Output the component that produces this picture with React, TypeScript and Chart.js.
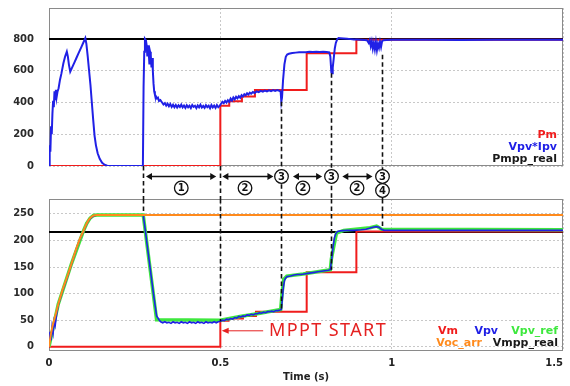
import React, { useEffect, useRef } from 'react';
import { Chart, registerables } from 'chart.js';
Chart.register(...registerables);

// ---------- shared axis ----------
const timeRange = [0, 1.5];
const timeTicks = [0, 0.5, 1, 1.5];

// ---------- top panel: power ----------
const powerTicks = [0, 200, 400, 600, 800];
const pmppReal = 800;

const pmTimes = [0, 0.5, 0.526, 0.563, 0.601, 0.752, 0.897, 1.5];
const pmValues = [0, 380, 407, 437, 478, 710, 795, 795];

const pvPowerTimes = [
  0, 0.002, 0.004, 0.006, 0.008, 0.01, 0.012, 0.014, 0.016, 0.018, 0.02, 0.022, 0.025, 0.028, 0.032,
  0.036, 0.042, 0.047, 0.052, 0.055, 0.058, 0.062, 0.066, 0.07, 0.075, 0.08, 0.085, 0.09, 0.095, 0.1,
  0.104, 0.106, 0.109, 0.113, 0.117, 0.121, 0.125, 0.129, 0.133, 0.137, 0.142, 0.148, 0.155, 0.162, 0.17,
  0.18, 0.274, 0.276, 0.278, 0.28, 0.283, 0.285, 0.287, 0.289, 0.291, 0.293, 0.295, 0.297, 0.299, 0.301,
  0.303, 0.305, 0.307, 0.309, 0.312, 0.315, 0.318, 0.321, 0.325, 0.33, 0.334, 0.338, 0.342, 0.346, 0.35,
  0.354, 0.358, 0.362, 0.366, 0.37, 0.374, 0.378, 0.382, 0.386, 0.39, 0.394, 0.398, 0.402, 0.406, 0.41,
  0.414, 0.418, 0.422, 0.426, 0.43, 0.434, 0.438, 0.442, 0.446, 0.45, 0.454, 0.458, 0.462, 0.466, 0.47,
  0.474, 0.478, 0.482, 0.486, 0.49, 0.494, 0.498, 0.502, 0.506, 0.51, 0.514, 0.518, 0.522, 0.526, 0.53,
  0.534, 0.538, 0.542, 0.546, 0.55, 0.554, 0.558, 0.562, 0.566, 0.57, 0.574, 0.578, 0.582, 0.586, 0.59,
  0.595, 0.6, 0.606, 0.612, 0.618, 0.624, 0.63, 0.636, 0.642, 0.648, 0.654, 0.66, 0.666, 0.672, 0.676,
  0.678, 0.68, 0.683, 0.687, 0.691, 0.695, 0.7, 0.71, 0.72, 0.73, 0.74, 0.75, 0.76, 0.77, 0.78,
  0.79, 0.8, 0.81, 0.818, 0.821, 0.824, 0.826, 0.828, 0.831, 0.834, 0.837, 0.841, 0.845, 0.85, 0.86,
  0.87, 0.88, 0.89, 0.9, 0.91, 0.92, 0.928, 0.933, 0.936, 0.939, 0.942, 0.945, 0.948, 0.951, 0.954,
  0.957, 0.96, 0.963, 0.966, 0.969, 0.972, 0.976, 0.985, 1.0, 1.1, 1.2, 1.3, 1.4, 1.5,
];
const pvPowerValues = [
  0, 130, 90, 250, 200, 330, 410, 370, 470, 420, 480, 430, 470, 490, 542,
  580, 647, 690, 720, 690, 640, 594, 613, 632, 656, 680, 704, 728, 752, 776,
  795, 805, 770, 690, 600, 510, 400, 290, 190, 130, 80, 45, 20, 8, 2,
  0, 0, 500, 720, 800, 790, 760, 690, 760, 720, 640, 720, 700, 620, 680,
  600, 520, 470, 450, 440, 425, 430, 410, 415, 400, 388, 396, 380, 392, 376,
  390, 372, 386, 370, 384, 368, 382, 371, 386, 369, 381, 366, 383, 370, 380,
  365, 384, 372, 379, 364, 382, 370, 386, 368, 378, 366, 383, 371, 380, 364,
  384, 369, 381, 366, 384, 370, 378, 392, 404, 396, 410, 400, 414, 404, 425,
  412, 432, 420, 436, 426, 440, 430, 446, 438, 452, 445, 458, 450, 462, 455,
  466, 460, 470, 465, 473, 468, 475, 470, 477, 472, 478, 473, 478, 474, 468,
  405, 430, 540, 640, 688, 702, 707, 711, 714, 716, 717, 716, 719, 718, 720,
  718, 720, 718, 715, 690, 590, 584, 620, 680, 740, 775, 798, 806, 805, 803,
  801, 799, 797, 796, 795, 794, 792, 775, 792, 755, 785, 740, 775, 735, 780,
  730, 770, 745, 782, 750, 785, 792, 794, 795, 795, 794, 795, 795, 795,
];

// ---------- bottom panel: voltage ----------
const voltageTicks = [0, 50, 100, 150, 200, 250];
const vmppReal = 216;

const vmTimes = [0, 0.5, 0.524, 0.566, 0.604, 0.752, 0.897, 1.5];
const vmValues = [0, 49, 53, 58, 66, 140, 217, 217];

const vocTimes = [0, 0.005, 0.01, 0.02, 0.027, 0.04, 0.05, 0.06, 0.066, 0.08, 0.09, 0.1, 0.105, 0.11, 0.115, 0.12, 0.125, 0.13, 0.14, 1.5];
const vocValues = [0, 22, 38, 62, 80, 108, 126, 145, 157, 185, 203, 217, 225, 232, 238, 242, 245, 247, 248, 248];

const vpvTimes = [
  0, 0.003, 0.006, 0.009, 0.012, 0.015, 0.018, 0.022, 0.027, 0.04, 0.05, 0.06, 0.066, 0.08, 0.09,
  0.1, 0.105, 0.11, 0.115, 0.12, 0.125, 0.13, 0.14, 0.275, 0.28, 0.285, 0.29, 0.295, 0.3, 0.305,
  0.31, 0.314, 0.318, 0.322, 0.326, 0.332, 0.338, 0.344, 0.35, 0.356, 0.362, 0.368, 0.374, 0.38, 0.386,
  0.392, 0.398, 0.404, 0.41, 0.416, 0.422, 0.428, 0.434, 0.44, 0.446, 0.452, 0.458, 0.464, 0.47, 0.476,
  0.482, 0.488, 0.494, 0.5, 0.506, 0.512, 0.518, 0.524, 0.53, 0.536, 0.542, 0.548, 0.554, 0.56, 0.566,
  0.572, 0.578, 0.584, 0.59, 0.596, 0.602, 0.608, 0.614, 0.62, 0.626, 0.632, 0.638, 0.644, 0.65, 0.656,
  0.662, 0.668, 0.674, 0.678, 0.681, 0.684, 0.687, 0.69, 0.695, 0.705, 0.715, 0.725, 0.735, 0.745, 0.755,
  0.765, 0.775, 0.785, 0.795, 0.805, 0.815, 0.821, 0.825, 0.829, 0.833, 0.837, 0.842, 0.85, 0.87, 0.89,
  0.91, 0.925, 0.935, 0.945, 0.955, 0.963, 0.97, 0.978, 0.99, 1.0, 1.2, 1.5,
];
const vpvValues = [
  0, 28, 12, 38, 26, 48, 40, 60, 78, 106, 124, 144, 156, 184, 202,
  216, 224, 231, 237, 241, 244, 246, 248, 248, 224, 199, 174, 149, 124, 99,
  76, 58, 54, 50, 47, 45, 47, 45, 46, 44, 47, 45, 46, 44, 47,
  45, 46, 44, 47, 45, 46, 44, 47, 45, 46, 44, 47, 45, 46, 45,
  47, 45, 47, 48, 50, 49, 52, 51, 53, 52, 55, 54, 57, 56, 58,
  57, 60, 59, 61, 60, 62, 62, 64, 63, 65, 64, 66, 66, 67, 66,
  68, 68, 69, 70, 90, 112, 124, 129, 132, 133, 135, 136, 136, 137, 138,
  139, 140, 141, 142, 143, 144, 145, 165, 188, 205, 213, 217, 218, 219, 219,
  220, 221, 223, 225, 226, 225, 221, 219, 219, 219, 219, 219,
];

const vpvRefTimes = [0, 0.027, 0.066, 0.1, 0.11, 0.12, 0.13, 0.14, 0.275, 0.314, 0.5, 0.557, 0.616, 0.676, 0.68, 0.685, 0.694, 0.742, 0.821, 0.824, 0.83, 0.839, 0.86, 0.937, 0.956, 0.971, 1.5];
const vpvRefValues = [0, 80, 157, 217, 232, 242, 247, 248, 248, 51, 50, 57, 63, 70, 100, 127, 133, 137, 145, 165, 185, 214, 219, 224, 227, 221, 220];

// ---------- annotations ----------
const markerTimes = [0.275, 0.5, 0.677, 0.823, 0.971];
const markerTopValues = [0, 0, 405, 584, 700];
const markerBottomValues = [250, 48, 70, 145, 226];

const phaseArrowStarts = [0.283, 0.506, 0.712, 0.856];
const phaseArrowEnds = [0.488, 0.655, 0.797, 0.944];
const phaseLabelTimes = [0.386, 0.572, 0.741, 0.899];
const phaseLabels = ['1', '2', '2', '2'];

const stageTimes = [0.677, 0.823, 0.971];
const stageUpperLabels = ['3', '3', '3'];
const stageLowerLabels = ['', '', '4'];

const mpptArrowFrom = 0.625;
const mpptArrowTo = 0.504;
const mpptArrowValue = 30;
const mpptLabelTime = 0.642;
const mpptLabel = 'MPPT START';

const topLegendLabels = ['Pm', 'Vpv*Ipv', 'Pmpp_real'];
const bottomLegendRow1 = ['Vm', 'Vpv', 'Vpv_ref'];
const bottomLegendRow2 = ['Voc_arr', 'Vmpp_real'];

// ---------- styles ----------
const RED = '#f01c1c';
const BLUE = '#2020e6';
const GREEN = '#3ee83e';
const ORANGE = '#ff8a1c';
const BLACK = '#000000';
const TICK_FONT = { family: '"DejaVu Sans", Verdana, sans-serif', weight: 'bold' as const, size: 10 };
const FONT_FAMILY = '"DejaVu Sans", Verdana, sans-serif';

const pts = (ts: number[], vs: number[]) => ts.map((t, i) => ({ x: t, y: vs[i] }));
const flat = (v: number) => timeRange.map((t) => ({ x: t, y: v }));

function lineDs(label: string, data: any[], color: string, width: number, stepped = false) {
  return {
    label,
    data,
    borderColor: color,
    backgroundColor: color,
    borderWidth: width,
    pointRadius: 0,
    tension: 0,
    fill: false,
    stepped,
  };
}

const boxPlugin = {
  id: 'plotBox',
  beforeDatasetsDraw(chart: any) {
    const { ctx, chartArea: a } = chart;
    ctx.save();
    ctx.strokeStyle = '#8a8a8a';
    ctx.lineWidth = 1;
    ctx.strokeRect(a.left + 0.5, a.top + 0.5, a.right - a.left - 1, a.bottom - a.top - 1);
    ctx.restore();
  },
};

function circled(ctx: CanvasRenderingContext2D, x: number, y: number, txt: string) {
  ctx.beginPath();
  ctx.arc(x, y, 6.8, 0, Math.PI * 2);
  ctx.fillStyle = '#fff';
  ctx.fill();
  ctx.lineWidth = 1.3;
  ctx.strokeStyle = '#111';
  ctx.setLineDash([]);
  ctx.stroke();
  ctx.fillStyle = '#111';
  ctx.font = `bold 10px ${FONT_FAMILY}`;
  ctx.textAlign = 'center';
  ctx.textBaseline = 'middle';
  ctx.fillText(txt, x, y + 0.5);
}

function arrowHead(ctx: CanvasRenderingContext2D, x: number, y: number, dir: number, len: number, half: number) {
  ctx.beginPath();
  ctx.moveTo(x, y);
  ctx.lineTo(x - dir * len, y - half);
  ctx.lineTo(x - dir * len, y + half);
  ctx.closePath();
  ctx.fill();
}

const topAnnotations = {
  id: 'topAnnotations',
  afterDatasetsDraw(chart: any) {
    const { ctx, chartArea: a, scales } = chart;
    const x = scales.x;
    const y = scales.y;
    const gapEnd = a.bottom + 33;
    ctx.save();
    ctx.strokeStyle = '#111';
    ctx.lineWidth = 1.6;
    ctx.setLineDash([4.5, 3]);
    markerTimes.forEach((t, i) => {
      const px = Math.round(x.getPixelForValue(t)) + 0.5;
      ctx.beginPath();
      ctx.moveTo(px, y.getPixelForValue(markerTopValues[i]));
      ctx.lineTo(px, gapEnd);
      ctx.stroke();
    });
    ctx.setLineDash([]);
    const rowY = a.bottom + 10.5;
    ctx.fillStyle = '#111';
    ctx.lineWidth = 1.5;
    phaseArrowStarts.forEach((t0, i) => {
      const x0 = x.getPixelForValue(t0);
      const x1 = x.getPixelForValue(phaseArrowEnds[i]);
      ctx.beginPath();
      ctx.moveTo(x0 + 3, rowY);
      ctx.lineTo(x1 - 3, rowY);
      ctx.stroke();
      arrowHead(ctx, x0, rowY, -1, 6, 3.5);
      arrowHead(ctx, x1, rowY, 1, 6, 3.5);
    });
    phaseLabelTimes.forEach((t, i) => circled(ctx, x.getPixelForValue(t), a.bottom + 22, phaseLabels[i]));
    stageTimes.forEach((t, i) => {
      const px = Math.round(x.getPixelForValue(t)) + 0.5;
      circled(ctx, px, rowY, stageUpperLabels[i]);
      if (stageLowerLabels[i]) circled(ctx, px, a.bottom + 24.5, stageLowerLabels[i]);
    });
    // legend
    ctx.font = `bold 11px ${FONT_FAMILY}`;
    ctx.textAlign = 'right';
    ctx.textBaseline = 'middle';
    const cols = [RED, BLUE, '#1a1a1a'];
    topLegendLabels.forEach((s, i) => {
      ctx.fillStyle = cols[i];
      ctx.fillText(s, a.right - 6, a.bottom - 31 + 12 * i);
    });
    ctx.restore();
  },
};

const bottomAnnotations = {
  id: 'bottomAnnotations',
  afterDatasetsDraw(chart: any) {
    const { ctx, chartArea: a, scales } = chart;
    const x = scales.x;
    const y = scales.y;
    ctx.save();
    ctx.strokeStyle = '#111';
    ctx.lineWidth = 1.6;
    ctx.setLineDash([4.5, 3]);
    markerTimes.forEach((t, i) => {
      const px = Math.round(x.getPixelForValue(t)) + 0.5;
      ctx.beginPath();
      ctx.moveTo(px, a.top);
      ctx.lineTo(px, y.getPixelForValue(markerBottomValues[i]));
      ctx.stroke();
    });
    ctx.setLineDash([]);
    // MPPT START arrow
    const ay = y.getPixelForValue(mpptArrowValue);
    const ax0 = x.getPixelForValue(mpptArrowFrom);
    const ax1 = x.getPixelForValue(mpptArrowTo);
    ctx.strokeStyle = '#e52222';
    ctx.fillStyle = '#e52222';
    ctx.lineWidth = 1;
    ctx.beginPath();
    ctx.moveTo(ax0, ay);
    ctx.lineTo(ax1 + 4, ay);
    ctx.stroke();
    arrowHead(ctx, ax1, ay, -1, 7, 3);
    ctx.font = `18px "Noto Sans", ${FONT_FAMILY}`;
    ctx.textAlign = 'left';
    ctx.textBaseline = 'middle';
    (ctx as any).letterSpacing = '1.4px';
    ctx.fillText(mpptLabel, x.getPixelForValue(mpptLabelTime), ay);
    (ctx as any).letterSpacing = '0px';
    // last x tick label, right aligned at the plot edge
    ctx.fillStyle = '#222';
    ctx.font = `bold 10px ${FONT_FAMILY}`;
    ctx.textAlign = 'right';
    ctx.fillText(String(timeTicks[timeTicks.length - 1]), x.getPixelForValue(timeTicks[timeTicks.length - 1]), a.bottom + 12);
    // legend
    ctx.font = `bold 11px ${FONT_FAMILY}`;
    const row1Cols = [RED, BLUE, GREEN];
    const row1Right = [105, 65, 5];
    bottomLegendRow1.forEach((s, i) => {
      ctx.fillStyle = row1Cols[i];
      ctx.fillText(s, a.right - row1Right[i], a.bottom - 20.3);
    });
    const row2Cols = [ORANGE, '#1a1a1a'];
    const row2Right = [81, 5];
    bottomLegendRow2.forEach((s, i) => {
      ctx.fillStyle = row2Cols[i];
      ctx.fillText(s, a.right - row2Right[i], a.bottom - 8.3);
    });
    ctx.restore();
  },
};

function yAxis(min: number, max: number, ticks: number[]) {
  return {
    type: 'linear' as const,
    min,
    max,
    afterBuildTicks: (s: any) => {
      s.ticks = ticks.map((v) => ({ value: v }));
    },
    afterFit: (s: any) => {
      s.width = 49;
      s.paddingTop = 0;
      s.paddingBottom = 0;
    },
    grid: { color: '#c8c8c8', lineWidth: 1, drawTicks: false },
    border: { display: false, dash: [2, 2] },
    ticks: { font: TICK_FONT, color: '#2a2a2a', padding: 15 },
  };
}

function xAxis(height: number, showLabels: boolean) {
  return {
    type: 'linear' as const,
    min: timeRange[0],
    max: timeRange[1],
    afterBuildTicks: (s: any) => {
      s.ticks = timeTicks.map((v) => ({ value: v }));
    },
    afterFit: (s: any) => {
      s.height = height;
      s.paddingLeft = 0;
      s.paddingRight = 0;
    },
    grid: { color: '#c8c8c8', lineWidth: 1, drawTicks: false },
    border: { display: false, dash: [2, 2] },
    ticks: {
      display: showLabels,
      font: TICK_FONT,
      color: '#222',
      padding: 6,
      maxRotation: 0,
      autoSkip: false,
      callback: (v: any) => (v === timeRange[1] ? '' : String(v)),
    },
    title: showLabels
      ? { display: true, text: 'Time (s)', font: TICK_FONT, color: '#222', padding: { top: 0, bottom: 3 } }
      : { display: false },
  };
}

const commonOptions = {
  responsive: false,
  animation: false as const,
  events: [] as any[],
  plugins: { legend: { display: false }, tooltip: { enabled: false } },
};

export default function App() {
  const topRef = useRef<HTMLCanvasElement>(null);
  const botRef = useRef<HTMLCanvasElement>(null);

  useEffect(() => {
    const top = new Chart(topRef.current as HTMLCanvasElement, {
      type: 'line',
      data: {
        datasets: [
          lineDs('Vpv*Ipv', pts(pvPowerTimes, pvPowerValues), BLUE, 2),
          lineDs('Pm', pts(pmTimes, pmValues), RED, 2, true),
          lineDs('Pmpp_real', flat(pmppReal), BLACK, 2),
        ] as any,
      },
      options: {
        ...commonOptions,
        layout: { padding: { left: 0, top: 8, right: 7, bottom: 220 } },
        scales: { x: xAxis(0, false), y: yAxis(0, 995, powerTicks) } as any,
      } as any,
      plugins: [boxPlugin, topAnnotations],
    });
    const bot = new Chart(botRef.current as HTMLCanvasElement, {
      type: 'line',
      data: {
        datasets: [
          lineDs('Voc_arr', pts(vocTimes, vocValues), ORANGE, 2),
          lineDs('Vpv', pts(vpvTimes, vpvValues), BLUE, 1.6),
          lineDs('Vpv_ref', pts(vpvRefTimes, vpvRefValues), GREEN, 3.5),
          lineDs('Vm', pts(vmTimes, vmValues), RED, 2, true),
          lineDs('Vmpp_real', flat(vmppReal), BLACK, 2),
        ] as any,
      },
      options: {
        ...commonOptions,
        layout: { padding: { left: 0, top: 199, right: 7, bottom: 0 } },
        scales: { x: xAxis(35, true), y: yAxis(-8, 278, voltageTicks) } as any,
      } as any,
      plugins: [boxPlugin, bottomAnnotations],
    });
    return () => {
      top.destroy();
      bot.destroy();
    };
  }, []);

  return (
    <div style={{ position: 'fixed', left: 0, top: 0, width: 570, height: 386, background: '#fff' }}>
      <canvas ref={topRef} width={570} height={386} style={{ position: 'absolute', left: 0, top: 0 }} />
      <canvas ref={botRef} width={570} height={386} style={{ position: 'absolute', left: 0, top: 0 }} />
    </div>
  );
}
